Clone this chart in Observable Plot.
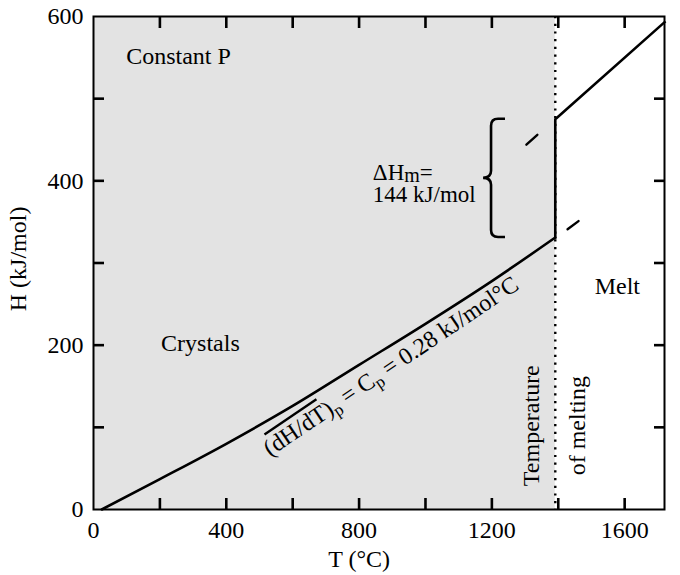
<!DOCTYPE html>
<html>
<head>
<meta charset="utf-8">
<script src="https://cdn.jsdelivr.net/npm/d3@7"></script>
<script src="https://cdn.jsdelivr.net/npm/@observablehq/plot@0.6"></script>
<style>
  html, body { margin: 0; padding: 0; background: white; }
</style>
</head>
<body>
<script>
// ---- data ----
const crystalT = [25, 200, 400, 600, 800, 1000, 1200, 1391];
const crystalH = [0, 37, 80, 126, 176, 226, 278, 331];
const meltT = [1391, 1720];
const meltH = [475, 593];
const meltExtT = [1304, 1337];
const meltExtH = [444, 456];
const crystExtT = [1428, 1461];
const crystExtH = [341, 351];
const Tm = 1391;            // temperature of melting
const dHm = 144;            // kJ/mol
const xTicks = [200, 400, 600, 800, 1000, 1200, 1400, 1600];
const yTicks = [100, 200, 300, 400, 500];
const xLabels = [0, 400, 800, 1200, 1600];
const yLabels = [0, 200, 400, 600];

const crystalLine = crystalT.map((t, i) => ({T: t, H: crystalH[i]}));
const meltLine = [crystalLine[crystalLine.length - 1]]
  .concat(meltT.map((t, i) => ({T: t, H: meltH[i]})));
const meltExt = meltExtT.map((t, i) => ({T: t, H: meltExtH[i]}));
const crystExt = crystExtT.map((t, i) => ({T: t, H: crystExtH[i]}));

const FONT = "'Liberation Serif', 'Times New Roman', serif";
const svgNS = "http://www.w3.org/2000/svg";

// rich text (subscripts / overline) positioned through the scales
function richText(lines, {x: tx, y: ty, rotate = 0, anchor = "start", fontSize = 24, lineHeight = 20}) {
  return (index, scales) => {
    const g = document.createElementNS(svgNS, "g");
    g.setAttribute("transform", `translate(${scales.x(tx)},${scales.y(ty)}) rotate(${rotate})`);
    lines.forEach((parts, i) => {
      const t = document.createElementNS(svgNS, "text");
      t.setAttribute("x", 0);
      t.setAttribute("y", i * lineHeight);
      t.setAttribute("text-anchor", anchor);
      t.setAttribute("font-size", fontSize);
      t.setAttribute("font-family", FONT);
      t.setAttribute("fill", "black");
      let shift = 0;
      parts.forEach(p => {
        const s = document.createElementNS(svgNS, "tspan");
        s.textContent = p.text;
        const want = p.sub || 0;
        if (want !== shift) { s.setAttribute("dy", want - shift); shift = want; }
        if (p.size) s.setAttribute("font-size", p.size);
        if (p.overline) s.setAttribute("style", "text-decoration: overline;");
        t.appendChild(s);
      });
      g.appendChild(t);
    });
    return g;
  };
}

// curly brace spanning the enthalpy of melting
function brace({tip, stem, end, h1, h2}) {
  return (index, scales) => {
    const xt = scales.x(tip), xv = scales.x(stem), xe = scales.x(end);
    const yT = scales.y(h2), yB = scales.y(h1), ym = (yT + yB) / 2;
    const r = 7;
    const d = `M${xe},${yT} L${xv + r},${yT} Q${xv},${yT} ${xv},${yT + r}` +
      ` L${xv},${ym - r} Q${xv},${ym} ${xt},${ym} Q${xv},${ym} ${xv},${ym + r}` +
      ` L${xv},${yB - r} Q${xv},${yB} ${xv + r},${yB} L${xe},${yB}`;
    const p = document.createElementNS(svgNS, "path");
    p.setAttribute("d", d);
    p.setAttribute("fill", "none");
    p.setAttribute("stroke", "black");
    p.setAttribute("stroke-width", 2.6);
    return p;
  };
}

const Hsolid = crystalH[crystalH.length - 1];

const chart = Plot.plot({
  width: 680,
  height: 575,
  marginTop: 16,
  marginBottom: 66,
  marginLeft: 93,
  marginRight: 16,
  style: {font: `24px ${FONT}`, color: "black", background: "white"},
  x: {domain: [0, 1720], label: null},
  y: {domain: [0, 600], label: null},
  marks: [
    Plot.rect([Tm], {x1: 0, x2: d => d, y1: 0, y2: 600, fill: "#e3e3e3"}),
    Plot.ruleX([Tm], {stroke: "black", strokeWidth: 2.4, strokeDasharray: "2.2,5.5"}),
    Plot.line(crystalLine, {x: "T", y: "H", stroke: "black", strokeWidth: 2.6, curve: "monotone-x"}),
    Plot.line(meltLine, {x: "T", y: "H", stroke: "black", strokeWidth: 2.6, strokeLinejoin: "miter", strokeLinecap: "square"}),
    Plot.line(meltExt, {x: "T", y: "H", stroke: "black", strokeWidth: 2.4}),
    Plot.line(crystExt, {x: "T", y: "H", stroke: "black", strokeWidth: 2.4}),
    Plot.frame({stroke: "black", strokeWidth: 2}),
    // inward ticks on all four sides
    Plot.axisX(xTicks, {anchor: "bottom", tickSize: -11, strokeWidth: 2.6, tickFormat: () => "", label: null}),
    Plot.axisX(xTicks, {anchor: "top", tickSize: -11, strokeWidth: 2.6, tickFormat: () => "", label: null}),
    Plot.axisY(yTicks, {anchor: "left", tickSize: -11, strokeWidth: 2.6, tickFormat: () => "", label: null}),
    Plot.axisY(yTicks, {anchor: "right", tickSize: -11, strokeWidth: 2.6, tickFormat: () => "", label: null}),
    // tick labels
    Plot.axisX(xLabels, {anchor: "bottom", tickSize: 0, tickPadding: 11, label: null, fontSize: 24, tickFormat: "d"}),
    Plot.axisY(yLabels, {anchor: "left", tickSize: 0, tickPadding: 10, label: null, fontSize: 24, tickFormat: "d"}),
    // axis titles
    Plot.text(["T (°C)"], {x: 800, frameAnchor: "bottom", dy: 50, fontSize: 24, textAnchor: "middle", lineAnchor: "middle"}),
    Plot.text(["H (kJ/mol)"], {y: 305, frameAnchor: "left", dx: -75, rotate: -90, fontSize: 24, textAnchor: "middle", lineAnchor: "middle"}),
    // annotations
    Plot.text(["Constant P"], {x: 256, y: 552, fontSize: 24}),
    Plot.text(["Crystals"], {x: 322, y: 202, fontSize: 24}),
    Plot.text(["Melt"], {x: 1578, y: 272, fontSize: 24}),
    Plot.text(["Temperature"], {x: 1320, y: 102, rotate: -90, fontSize: 24}),
    Plot.text(["of melting"], {x: 1456, y: 102, rotate: -90, fontSize: 24}),
    richText([
      [{text: "ΔH"}, {text: "m", sub: 2, size: 20}, {text: "="}],
      [{text: `${dHm} kJ/mol`}]
    ], {x: 843, y: 400, anchor: "start", fontSize: 23, lineHeight: 22}),
    richText([
      [{text: "("}, {text: "dH/dT", overline: true}, {text: ")"}, {text: "p", sub: 5, size: 17},
       {text: " = C"}, {text: "p", sub: 5, size: 17}, {text: " = 0.28 kJ/mol°C"}]
    ], {x: 910, y: 166, rotate: -34, anchor: "middle", fontSize: 24}),
    brace({tip: 1175, stem: 1199, end: 1241, h1: Hsolid, h2: Hsolid + dHm})
  ]
});

document.body.appendChild(chart);
</script>
</body>
</html>
